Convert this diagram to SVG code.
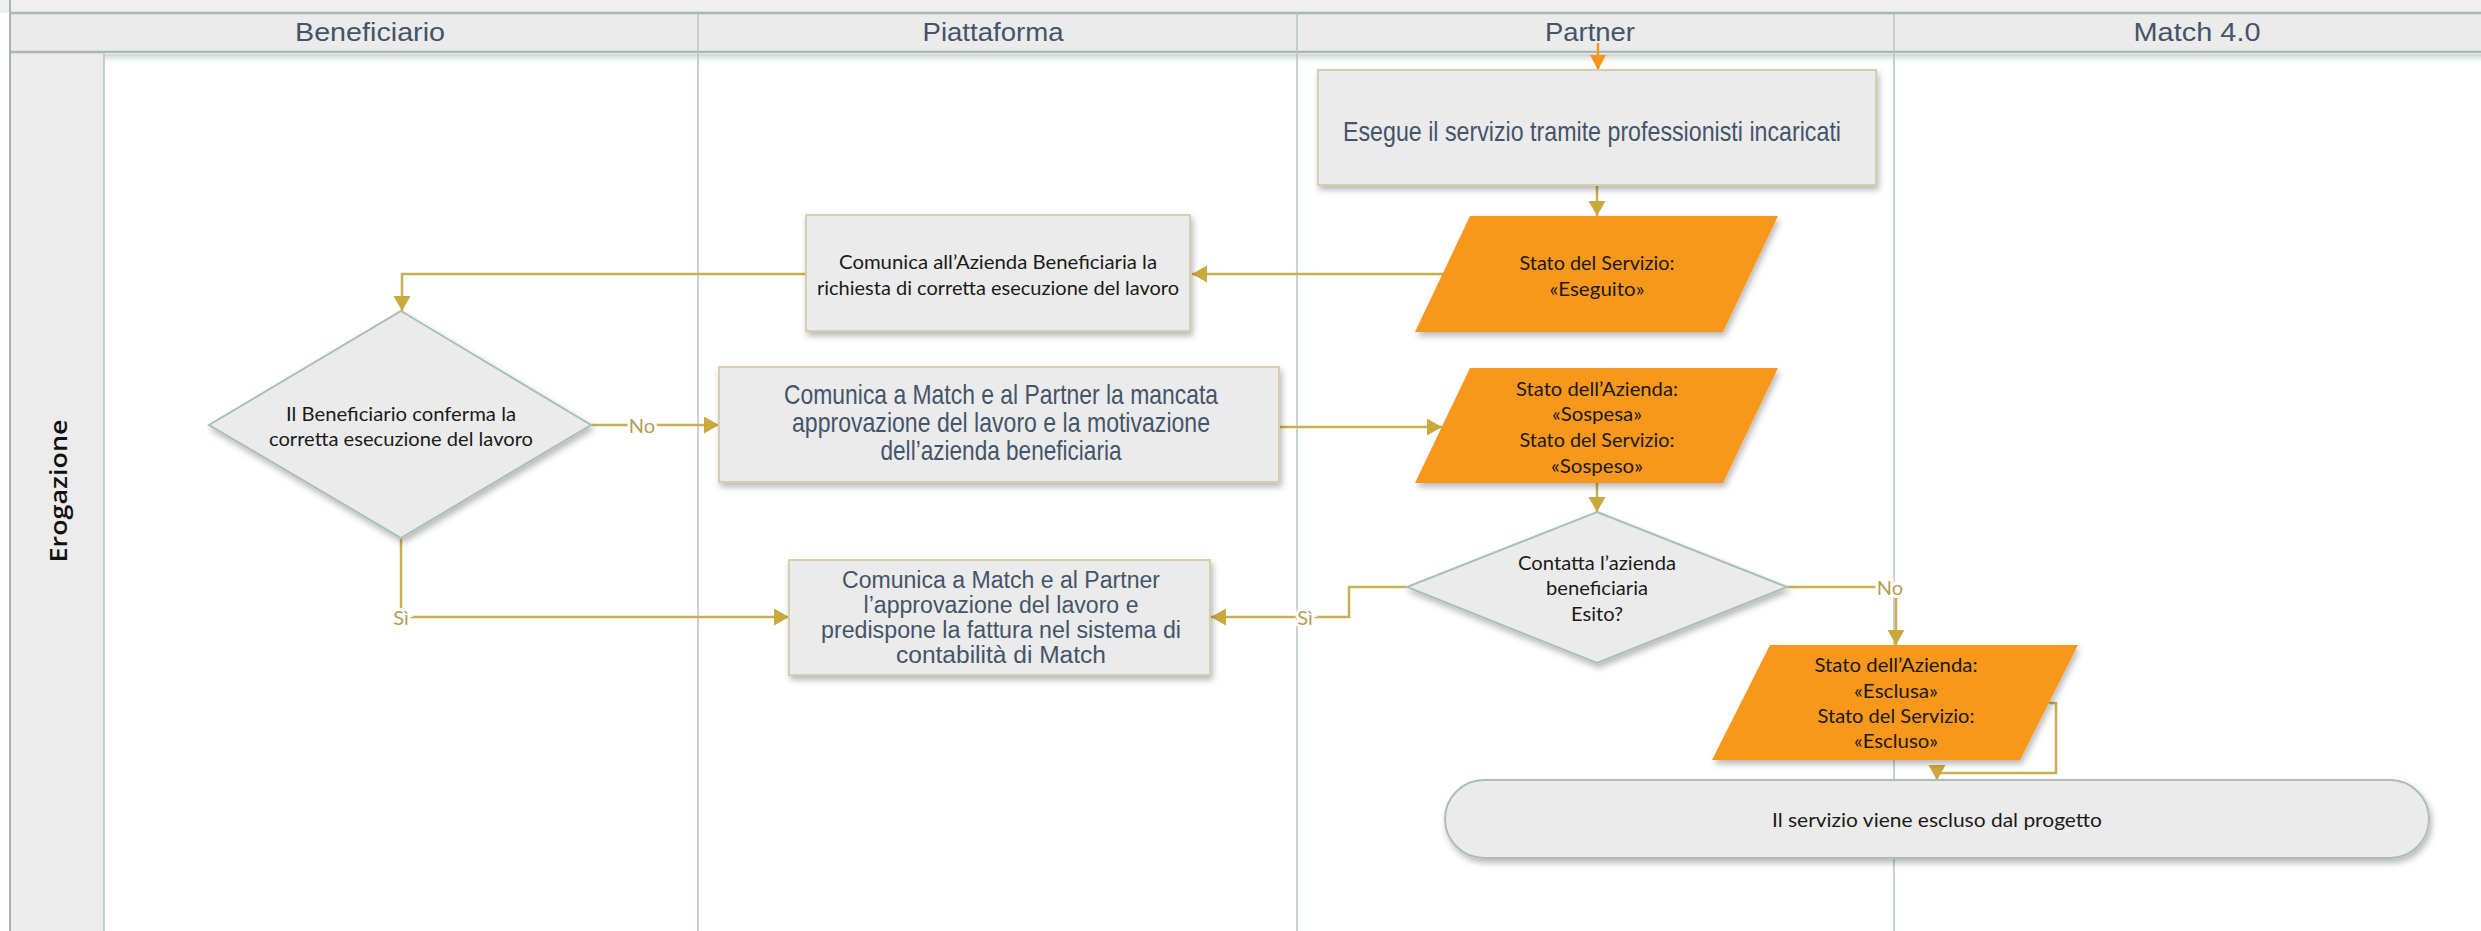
<svg xmlns="http://www.w3.org/2000/svg" width="2481" height="931" viewBox="0 0 2481 931">
<style>
.lane{stroke:#b4c5c1;stroke-width:1.5;fill:none}
.hdr{font-family:"Liberation Sans",Arial,sans-serif;font-size:26px;fill:#44546a;text-anchor:middle;dominant-baseline:central}
.box{fill:#ebebeb;stroke:#d6cfae;stroke-width:2}
.dia{fill:#ebebeb;stroke:#a9bfba;stroke-width:2}
.par{fill:#f7981f}
.nt{font-family:"Liberation Sans",Arial,sans-serif;font-size:28px;fill:#44546a;text-anchor:middle;dominant-baseline:central}
.nt2{font-family:"Liberation Sans",Arial,sans-serif;font-size:23px;fill:#44546a;text-anchor:middle;dominant-baseline:central}
.ct{font-family:Lato,"Open Sans",sans-serif;font-size:19px;fill:#1a1a1a;text-anchor:middle;dominant-baseline:central}
.conn{stroke:#c9ae52;stroke-width:2.5;fill:none}
.lbl{font-family:Lato,"Open Sans",sans-serif;font-size:20px;fill:#b59c55;text-anchor:middle;dominant-baseline:central;stroke:#ffffff;stroke-width:6;paint-order:stroke}
</style>
<defs>
<filter id="sh" x="-10%" y="-10%" width="120%" height="130%">
<feDropShadow dx="2" dy="4" stdDeviation="3" flood-color="#000" flood-opacity="0.28"/>
</filter>
<linearGradient id="hs" x1="0" y1="0" x2="0" y2="1">
<stop offset="0" stop-color="#9aa9a6" stop-opacity="0.5"/>
<stop offset="1" stop-color="#9aa9a6" stop-opacity="0"/>
</linearGradient>
<marker id="ag" markerUnits="userSpaceOnUse" markerWidth="16" markerHeight="18" refX="15" refY="8.5" orient="auto">
<path d="M0,0 L15,8.5 L0,17 z" fill="#c9a93c"/>
</marker>
<marker id="ao" markerUnits="userSpaceOnUse" markerWidth="16" markerHeight="18" refX="15" refY="8" orient="auto">
<path d="M0,0 L15,8 L0,16 z" fill="#f7941d"/>
</marker>
</defs>
<rect width="2481" height="931" fill="#ffffff"/>

<g id="pool">
<rect x="0" y="0" width="2481" height="13" fill="#efefef"/>
<rect x="10" y="13" width="2471" height="39" fill="#ebebeb"/>
<rect x="10" y="54" width="2471" height="8" fill="url(#hs)"/>
<rect x="10" y="52" width="94" height="879" fill="#ececec"/>
<line x1="10" y1="13" x2="2481" y2="13" stroke="#a5b7b3" stroke-width="2.5"/>
<line x1="10" y1="52" x2="2481" y2="52" stroke="#a5b7b3" stroke-width="2.5"/>
<line x1="10" y1="0" x2="10" y2="931" stroke="#a5b7b3" stroke-width="2"/>
<line x1="104" y1="52" x2="104" y2="931" class="lane"/>
<line x1="698" y1="13" x2="698" y2="931" class="lane"/>
<line x1="1297" y1="13" x2="1297" y2="931" class="lane"/>
<line x1="1894" y1="13" x2="1894" y2="931" class="lane"/>
<text class="hdr" x="370" y="32" textLength="150" lengthAdjust="spacingAndGlyphs">Beneficiario</text>
<text class="hdr" x="993" y="32" textLength="141" lengthAdjust="spacingAndGlyphs">Piattaforma</text>
<text class="hdr" x="1590" y="32" textLength="90" lengthAdjust="spacingAndGlyphs">Partner</text>
<text class="hdr" x="2197" y="32" textLength="127" lengthAdjust="spacingAndGlyphs">Match 4.0</text>
<text x="57" y="491" transform="rotate(-90 57 491)" font-family="'Open Sans',sans-serif" font-size="24" font-weight="600" fill="#111" text-anchor="middle" dominant-baseline="central" textLength="143" lengthAdjust="spacingAndGlyphs">Erogazione</text>
</g>

<g id="connectors">
<path class="conn" d="M1598 43 V70" style="stroke:#f7941d" marker-end="url(#ao)"/>
<path class="conn" d="M1597 185 V216" marker-end="url(#ag)"/>
<path class="conn" d="M1443 274 H1192" marker-end="url(#ag)"/>
<path class="conn" d="M806 274 H402 V311" marker-end="url(#ag)"/>
<path class="conn" d="M591 425 H719" marker-end="url(#ag)"/>
<path class="conn" d="M1279 427 H1442" marker-end="url(#ag)"/>
<path class="conn" d="M1597 483 V512" marker-end="url(#ag)"/>
<path class="conn" d="M1407 587 H1349 V617 H1211" marker-end="url(#ag)"/>
<path class="conn" d="M401 538 V617 H789" marker-end="url(#ag)"/>
<path class="conn" d="M1787 587 H1896 V645" marker-end="url(#ag)"/>
<path class="conn" d="M2049 703 H2056 V773 H1937 V780" marker-end="url(#ag)"/>
<text class="lbl" x="642" y="425">No</text>
<text class="lbl" x="1305" y="617">Sì</text>
<text class="lbl" x="401" y="617">Sì</text>
<text class="lbl" x="1890" y="587">No</text>
</g>

<g id="n_esegue">
<rect class="box" x="1318" y="70" width="558" height="115" filter="url(#sh)"/>
<text class="nt" x="1592" y="131" textLength="498" lengthAdjust="spacingAndGlyphs">Esegue il servizio tramite professionisti incaricati</text>
</g>

<g id="n_eseguito">
<polygon class="par" points="1470,216 1778,216 1723,332 1415,332" filter="url(#sh)"/>
<text class="ct" x="1597" y="262" textLength="155" lengthAdjust="spacingAndGlyphs">Stato del Servizio:</text>
<text class="ct" x="1597" y="288" textLength="95" lengthAdjust="spacingAndGlyphs">«Eseguito»</text>
</g>

<g id="n_comunica_richiesta">
<rect class="box" x="806" y="215" width="384" height="116" filter="url(#sh)"/>
<text class="ct" x="998" y="261" textLength="318" lengthAdjust="spacingAndGlyphs">Comunica all’Azienda Beneficiaria la</text>
<text class="ct" x="998" y="287" textLength="362" lengthAdjust="spacingAndGlyphs">richiesta di corretta esecuzione del lavoro</text>
</g>

<g id="n_conferma">
<polygon class="dia" points="401,311 591,425 401,538 209,425" filter="url(#sh)"/>
<text class="ct" x="401" y="413" textLength="230" lengthAdjust="spacingAndGlyphs">Il Beneficiario conferma la</text>
<text class="ct" x="401" y="438" textLength="264" lengthAdjust="spacingAndGlyphs">corretta esecuzione del lavoro</text>
</g>

<g id="n_mancata">
<rect class="box" x="719" y="367" width="560" height="115" filter="url(#sh)"/>
<text class="nt" x="1001" y="394" textLength="434" lengthAdjust="spacingAndGlyphs">Comunica a Match e al Partner la mancata</text>
<text class="nt" x="1001" y="422" textLength="418" lengthAdjust="spacingAndGlyphs">approvazione del lavoro e la motivazione</text>
<text class="nt" x="1001" y="450" textLength="241" lengthAdjust="spacingAndGlyphs">dell’azienda beneficiaria</text>
</g>

<g id="n_sospesa">
<polygon class="par" points="1470,368 1778,368 1723,483 1415,483" filter="url(#sh)"/>
<text class="ct" x="1597" y="388" textLength="162" lengthAdjust="spacingAndGlyphs">Stato dell’Azienda:</text>
<text class="ct" x="1597" y="413" textLength="90" lengthAdjust="spacingAndGlyphs">«Sospesa»</text>
<text class="ct" x="1597" y="439" textLength="155" lengthAdjust="spacingAndGlyphs">Stato del Servizio:</text>
<text class="ct" x="1597" y="465" textLength="92" lengthAdjust="spacingAndGlyphs">«Sospeso»</text>
</g>

<g id="n_contatta">
<polygon class="dia" points="1597,512 1787,587 1597,663 1407,587" filter="url(#sh)"/>
<text class="ct" x="1597" y="562" textLength="158" lengthAdjust="spacingAndGlyphs">Contatta l’azienda</text>
<text class="ct" x="1597" y="587" textLength="102" lengthAdjust="spacingAndGlyphs">beneficiaria</text>
<text class="ct" x="1597" y="613" textLength="52" lengthAdjust="spacingAndGlyphs">Esito?</text>
</g>

<g id="n_approvazione">
<rect class="box" x="789" y="560" width="421" height="115" filter="url(#sh)"/>
<text class="nt2" x="1001" y="580" textLength="318" lengthAdjust="spacingAndGlyphs">Comunica a Match e al Partner</text>
<text class="nt2" x="1001" y="605" textLength="275" lengthAdjust="spacingAndGlyphs">l’approvazione del lavoro e</text>
<text class="nt2" x="1001" y="630" textLength="360" lengthAdjust="spacingAndGlyphs">predispone la fattura nel sistema di</text>
<text class="nt2" x="1001" y="655" textLength="210" lengthAdjust="spacingAndGlyphs">contabilità di Match</text>
</g>

<g id="n_esclusa">
<polygon class="par" points="1770,645 2078,645 2020,760 1712,760" filter="url(#sh)"/>
<text class="ct" x="1896" y="664" textLength="163" lengthAdjust="spacingAndGlyphs">Stato dell’Azienda:</text>
<text class="ct" x="1896" y="690" textLength="84" lengthAdjust="spacingAndGlyphs">«Esclusa»</text>
<text class="ct" x="1896" y="715" textLength="157" lengthAdjust="spacingAndGlyphs">Stato del Servizio:</text>
<text class="ct" x="1896" y="740" textLength="84" lengthAdjust="spacingAndGlyphs">«Escluso»</text>
</g>

<g id="n_escluso">
<rect class="dia" x="1445" y="780" width="984" height="78" rx="39" ry="39" filter="url(#sh)"/>
<text class="ct" x="1937" y="819" textLength="330" lengthAdjust="spacingAndGlyphs">Il servizio viene escluso dal progetto</text>
</g>
</svg>
